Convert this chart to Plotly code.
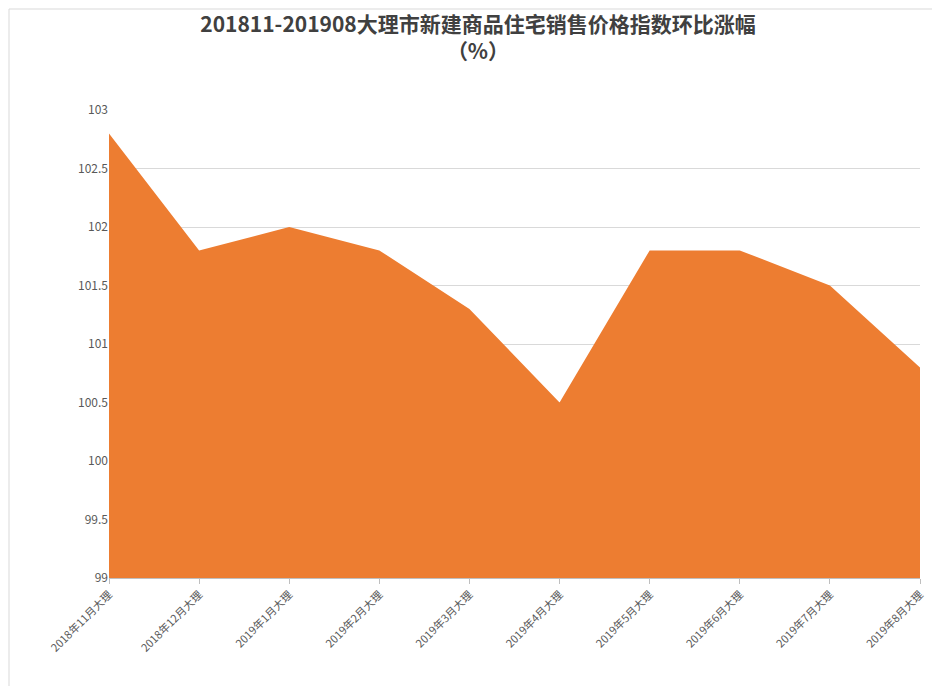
import plotly.graph_objects as go

categories = ["2018年11月大理","2018年12月大理","2019年1月大理","2019年2月大理","2019年3月大理",
              "2019年4月大理","2019年5月大理","2019年6月大理","2019年7月大理","2019年8月大理"]
values = [102.8, 101.8, 102.0, 101.8, 101.3, 100.5, 101.8, 101.8, 101.5, 100.8]
yticks = [99, 99.5, 100, 100.5, 101, 101.5, 102, 102.5, 103]

fig = go.Figure(go.Scatter(x=categories, y=values, mode="lines", fill="tozeroy",
                           line=dict(color="#ED7D31", width=0), fillcolor="#ED7D31"))
fig.update_layout(
    width=940, height=686, paper_bgcolor="white", plot_bgcolor="white",
    margin=dict(l=101, r=28, t=102, b=116),
    font=dict(family="Noto Sans CJK SC", color="#595959"),
    title=dict(text="<b>201811-201908大理市新建商品住宅销售价格指数环比涨幅</b><br><b>（%）</b>",
               x=0.5, xanchor="center", y=0.965, yanchor="top",
               font=dict(size=21, color="#404040")),
    showlegend=False,
    xaxis=dict(type="category", range=[0, 9], tickangle=-45, tickfont=dict(size=11),
               showgrid=False, ticks="outside", ticklen=5, tickcolor="#BFBFBF",
               showline=True, linecolor="#BFBFBF", automargin=False),
    yaxis=dict(range=[99, 103], tickvals=yticks, ticktext=[str(v) for v in yticks],
               tickfont=dict(size=12), gridcolor="#D9D9D9", zeroline=False, automargin=False),
    shapes=[dict(type="rect", xref="paper", yref="paper", x0=-100/811, x1=1+27/811,
                 y0=-115/468, y1=1+101/468, line=dict(color="#D9D9D9", width=1))],
)
fig.write_html("out.html")
